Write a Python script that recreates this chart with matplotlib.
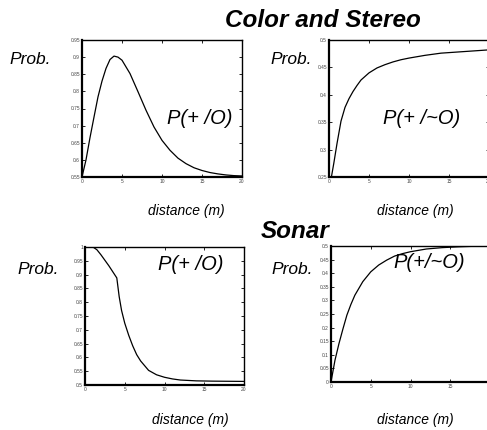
import numpy as np
import matplotlib
matplotlib.use("Agg")
import matplotlib.pyplot as plt

plt.rcParams['font.family'] = ['Liberation Sans', 'DejaVu Sans']

# ---- data ----
# Color and Stereo, P(+|O)
cs_obj_x = [0, 0.5, 1, 1.5, 2, 2.5, 3, 3.5, 4, 4.5, 5, 6, 7, 8, 9, 10,
            11, 12, 13, 14, 15, 16, 17, 18, 19, 20]
cs_obj_y = [0.55, 0.60, 0.665, 0.725, 0.784, 0.83, 0.867, 0.893, 0.903, 0.900,
            0.891, 0.852, 0.799, 0.745, 0.696, 0.657, 0.628, 0.605, 0.589,
            0.577, 0.569, 0.563, 0.559, 0.556, 0.554, 0.553]

# Color and Stereo, P(+|~O)
cs_nob_x = [0.3, 0.6, 1, 1.5, 2, 2.5, 3, 3.5, 4, 5, 6, 7, 8, 9, 10, 12, 14,
            16, 18, 20]
cs_nob_y = [0.25, 0.275, 0.311, 0.352, 0.377, 0.393, 0.406, 0.417, 0.427,
            0.440, 0.449, 0.455, 0.460, 0.464, 0.467, 0.472, 0.476, 0.478,
            0.480, 0.482]

# Sonar, P(+|O)
so_obj_x = [1, 1.5, 2, 3, 4, 4.3, 4.6, 5, 5.5, 6, 6.5, 7, 8, 9, 10, 11, 12,
            14, 16, 20]
so_obj_y = [1.0, 0.99, 0.972, 0.932, 0.888, 0.82, 0.77, 0.724, 0.68, 0.642,
            0.61, 0.587, 0.553, 0.537, 0.528, 0.522, 0.518, 0.515, 0.514,
            0.513]

# Sonar, P(+|~O)
so_nob_x = [0, 0.25, 0.5, 1, 1.5, 2, 2.5, 3, 4, 5, 6, 7, 8, 9, 10, 12, 14,
            16, 18, 20]
so_nob_y = [0.0, 0.04, 0.08, 0.141, 0.195, 0.246, 0.285, 0.319, 0.369, 0.405,
            0.430, 0.448, 0.463, 0.472, 0.479, 0.489, 0.494, 0.497, 0.499,
            0.5]

xticks = [0, 5, 10, 15, 20]
xticklabels = ['0', '5', '10', '15', '20']
yt_cs_obj = ['0.55', '0.6', '0.65', '0.7', '0.75', '0.8', '0.85', '0.9', '0.95']
yt_cs_nob = ['0.25', '0.3', '0.35', '0.4', '0.45', '0.5']
yt_so_obj = ['0.5', '0.55', '0.6', '0.65', '0.7', '0.75', '0.8', '0.85',
             '0.9', '0.95', '1']
yt_so_nob = ['0', '0.05', '0.1', '0.15', '0.2', '0.25', '0.3', '0.35', '0.4',
             '0.45', '0.5']

W, H = 487, 430
fig = plt.figure(figsize=(W / 100, H / 100), dpi=100)


def make_ax(x0, y0, x1, y1):
    # pixel box (top-left origin) -> figure fraction
    return fig.add_axes([x0 / W, 1 - y1 / H, (x1 - x0) / W, (y1 - y0) / H])


def style(ax, ylabels, ylim):
    ax.set_xlim(0, 20)
    ax.set_ylim(*ylim)
    ax.set_xticks(xticks)
    ax.set_xticklabels(xticklabels)
    ax.set_yticks([float(v) for v in ylabels])
    ax.set_yticklabels(ylabels)
    ax.tick_params(direction='in', length=2, width=0.6, labelsize=3.5,
                   labelcolor='#444444', top=True, right=True, pad=1.5)
    for s in ['left', 'bottom']:
        ax.spines[s].set_linewidth(1.6)
    for s in ['top', 'right']:
        ax.spines[s].set_linewidth(1.0)


ax1 = make_ax(82, 40, 242, 177)
ax1.plot(cs_obj_x, cs_obj_y, color='black', lw=0.9)
style(ax1, yt_cs_obj, (0.55, 0.95))
ax1.text(0.53, 0.43, 'P(+ /O)', transform=ax1.transAxes, fontsize=14.5,
         style='italic', va='center', ha='left')

ax2 = make_ax(329, 40, 489, 177)
ax2.plot(cs_nob_x, cs_nob_y, color='black', lw=0.9)
style(ax2, yt_cs_nob, (0.25, 0.5))
ax2.text(0.34, 0.43, 'P(+ /~O)', transform=ax2.transAxes, fontsize=14.5,
         style='italic', va='center', ha='left')

ax3 = make_ax(85, 247, 244, 385)
ax3.plot(so_obj_x, so_obj_y, color='black', lw=0.9)
style(ax3, yt_so_obj, (0.5, 1.0))
ax3.text(0.46, 0.87, 'P(+ /O)', transform=ax3.transAxes, fontsize=14.5,
         style='italic', va='center', ha='left')

ax4 = make_ax(331, 246, 490, 382)
ax4.plot(so_nob_x, so_nob_y, color='black', lw=0.9)
style(ax4, yt_so_nob, (0.0, 0.5))
ax4.text(0.39, 0.875, 'P(+/~O)', transform=ax4.transAxes, fontsize=14.5,
         style='italic', va='center', ha='left')


# headings and labels in pixel positions
def ftext(x, y, s, **kw):
    fig.text(x / W, 1 - y / H, s, **kw)


ftext(323, 27, 'Color and Stereo', fontsize=17.5, weight='bold',
      style='italic', ha='center', va='baseline')
ftext(295, 238, 'Sonar', fontsize=17.5, weight='bold', style='italic',
      ha='center', va='baseline')

for (px, py) in [(30, 60), (291, 60), (38, 270), (292, 270)]:
    ftext(px, py, 'Prob.', fontsize=12.5, style='italic', ha='center',
          va='center')

for (px, py) in [(186, 211), (415, 211), (190, 420), (415, 420)]:
    ftext(px, py, 'distance (m)', fontsize=10, style='italic', ha='center',
          va='center')

fig.savefig('out.png', dpi=100)
